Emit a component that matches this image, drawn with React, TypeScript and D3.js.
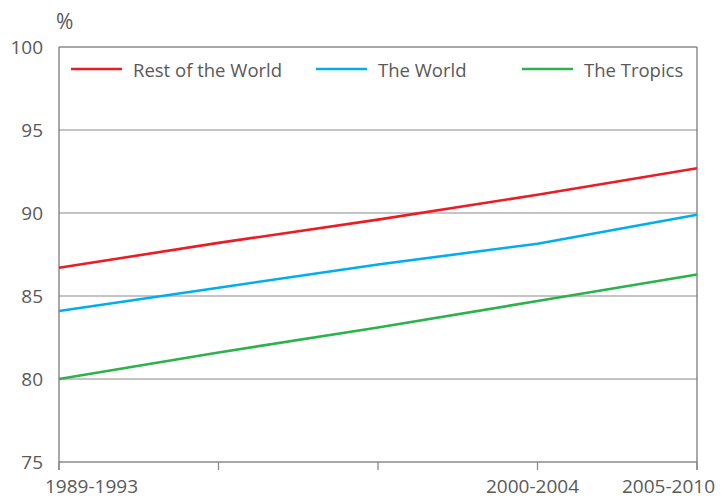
import React from "react";
import * as d3 from "d3";

const categoryLabels = ["1989-1993", "", "", "2000-2004", "2005-2010"];
const restOfWorld = [86.7, 88.2, 89.6, 91.1, 92.7];
const theWorld = [84.1, 85.5, 86.9, 88.15, 89.9];
const theTropics = [80.0, 81.6, 83.1, 84.7, 86.3];
const yTicks = [75, 80, 85, 90, 95, 100];

const seriesNames = ["Rest of the World", "The World", "The Tropics"];
const seriesColors = ["#ec1c24", "#00aeef", "#2bb24c"];
const seriesValues = [restOfWorld, theWorld, theTropics];

const W = 721;
const H = 499;
const M = { left: 59, right: 697, top: 47, bottom: 462 };
const FONT = "'Open Sans', sans-serif";
const TEXT = "#595959";

export default function App() {
  const idx = d3.range(categoryLabels.length);
  const x = d3.scalePoint<number>().domain(idx).range([M.left, M.right]);
  const y = d3.scaleLinear().domain([75, 100]).range([M.bottom, M.top]);
  const line = d3
    .line<number>()
    .x((_, i) => x(i) as number)
    .y((d) => y(d));

  const legendX = [71, 316, 522];
  const n = categoryLabels.length;

  return (
    <svg
      width={W}
      height={H}
      style={{ position: "absolute", left: 0, top: 0, background: "#fff" }}
      fontFamily={FONT}
    >
      {yTicks
        .filter((t) => t > 75 && t < 100)
        .map((t) => (
          <line
            key={t}
            x1={M.left}
            x2={M.right}
            y1={y(t)}
            y2={y(t)}
            stroke="#b0b0b0"
            strokeWidth={1.5}
          />
        ))}
      <line x1={M.left} x2={M.right} y1={y(100)} y2={y(100)} stroke="#8a8a8a" strokeWidth={1.3} />
      <line x1={M.left} x2={M.right} y1={y(75)} y2={y(75)} stroke="#8a8a8a" strokeWidth={1.3} />
      <line x1={M.left} x2={M.left} y1={y(100)} y2={y(75) + 8} stroke="#7a7a7a" strokeWidth={1.3} />
      <line x1={M.right} x2={M.right} y1={y(100)} y2={y(75) + 8} stroke="#7a7a7a" strokeWidth={1.3} />
      {idx.map((i) => (
        <line
          key={i}
          x1={x(i)}
          x2={x(i)}
          y1={y(75)}
          y2={y(75) + 8}
          stroke="#8a8a8a"
          strokeWidth={1.3}
        />
      ))}
      {yTicks.map((t) => (
        <text
          key={t}
          x={43}
          y={y(t)}
          textAnchor="end"
          dominantBaseline="central"
          fontSize={19}
          fill={TEXT}
        >
          {t}
        </text>
      ))}
      <text x={56} y={29} fontSize={21} fill={TEXT}>
        %
      </text>
      {idx.map((i) => {
        const lab = categoryLabels[i];
        if (!lab) return null;
        const anchor = i === 0 ? "start" : i === n - 1 ? "end" : "middle";
        const dx = i === 0 ? -14 : i === n - 1 ? 18 : -5;
        return (
          <text
            key={i}
            x={(x(i) as number) + dx}
            y={493}
            textAnchor={anchor}
            fontSize={19}
            fill={TEXT}
          >
            {lab}
          </text>
        );
      })}
      {seriesValues.map((vals, s) => (
        <path
          key={s}
          d={line(vals) || ""}
          fill="none"
          stroke={seriesColors[s]}
          strokeWidth={2.6}
        />
      ))}
      {seriesNames.map((name, s) => (
        <g key={name}>
          <line
            x1={legendX[s]}
            x2={legendX[s] + 51}
            y1={69}
            y2={69}
            stroke={seriesColors[s]}
            strokeWidth={2.6}
          />
          <text
            x={legendX[s] + 62}
            y={69}
            dominantBaseline="central"
            fontSize={18.5}
            fill={TEXT}
          >
            {name}
          </text>
        </g>
      ))}
    </svg>
  );
}
